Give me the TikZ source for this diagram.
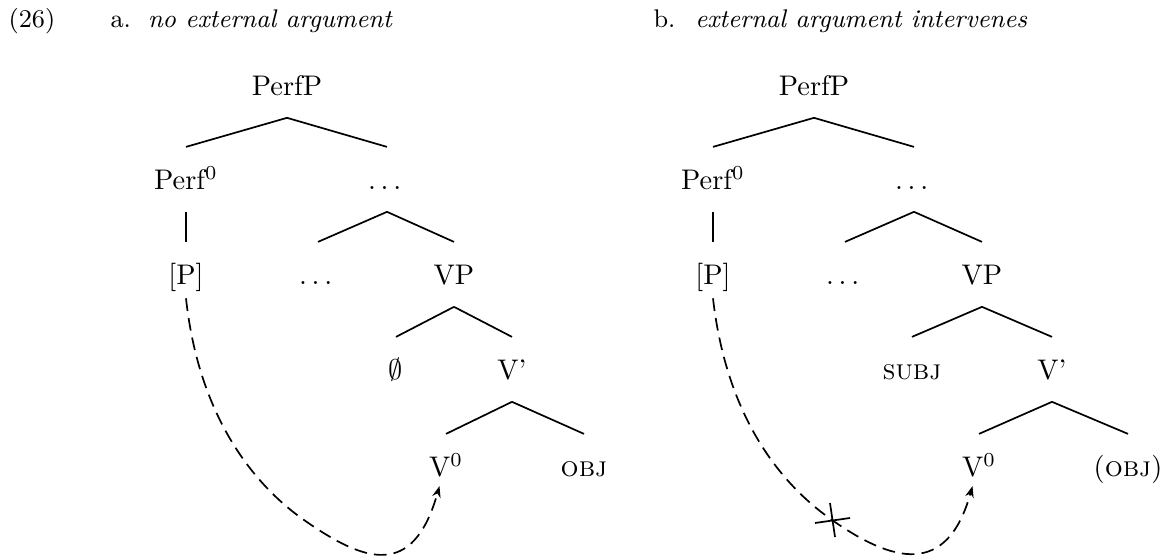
\documentclass[tikz,border=0pt]{standalone}
\usepackage{amssymb,amsmath}
\usepackage{tikz}
\usetikzlibrary{arrows.meta}

\begin{document}
\begin{tikzpicture}[x=0.3526pt, y=-0.3526pt,
    lbl/.style={inner sep=0pt, text height=15pt, text depth=7.5pt, anchor=base},
    head/.style={anchor=base west, inner sep=0pt, font=\fontsize{9}{11}\selectfont},
    edge/.style={line width=0.6pt},
    move/.style={line width=0.6pt, dash pattern=on 4.5pt off 2.5pt, -{Stealth[length=4pt,width=3pt]}}]
    \useasboundingbox (0,0) rectangle (1169,556);

    \node[head] (exnum) at (8,28) {(26)};
    \node[head] (tita) at (110,28) {a.\hspace{6pt}\textit{no external argument}};
    \node[head] (titb) at (653,28) {b.\hspace{7pt}\textit{external argument intervenes}};

    % tree a
    \node[lbl] (PerfPa) at (287,96) {PerfP};
    \node[lbl] (Perf0a) at (186,190) {Perf$^0$};
    \node[lbl] (dotsa1) at (387,190) {$\dots$};
    \node[lbl] (Pa) at (186,285) {[P]};
    \node[lbl] (dotsa2) at (318,285) {$\dots$};
    \node[lbl] (VPa) at (454,285) {VP};
    \node[lbl] (nulla) at (396,380) {$\emptyset$};
    \node[lbl] (Vbara) at (512,380) {V'};
    \node[lbl] (V0a) at (446,477) {V$^0$};
    \node[lbl] (OBJa) at (584,477) {\textsc{obj}};

    \draw[edge] (PerfPa.south) -- (Perf0a.north);
    \draw[edge] (PerfPa.south) -- (dotsa1.north);
    \draw[edge] (Perf0a.south) -- (Pa.north);
    \draw[edge] (dotsa1.south) -- (dotsa2.north);
    \draw[edge] (dotsa1.south) -- (VPa.north);
    \draw[edge] (VPa.south) -- (nulla.north);
    \draw[edge] (VPa.south) -- (Vbara.north);
    \draw[edge] (Vbara.south) -- (V0a.north);
    \draw[edge] (Vbara.south) -- (OBJa.north);

    \draw[move] ([yshift=3pt]Pa.south) .. controls (200,428) and (264,492) .. (304,520)
        .. controls (364,562) and (413,580) .. ([xshift=-2.3pt,yshift=4.5pt]V0a.south);

    % tree b
    \node[lbl] (PerfPb) at (814,96) {PerfP};
    \node[lbl] (Perf0b) at (713,190) {Perf$^0$};
    \node[lbl] (dotsb1) at (914,190) {$\dots$};
    \node[lbl] (Pb) at (713,285) {[P]};
    \node[lbl] (dotsb2) at (845,285) {$\dots$};
    \node[lbl] (VPb) at (982,285) {VP};
    \node[lbl] (SUBJb) at (912,380) {\textsc{subj}};
    \node[lbl] (Vbarb) at (1052,380) {V'};
    \node[lbl] (V0b) at (979,477) {V$^0$};
    \node[lbl] (OBJb) at (1128,477) {(\textsc{obj})};

    \draw[edge] (PerfPb.south) -- (Perf0b.north);
    \draw[edge] (PerfPb.south) -- (dotsb1.north);
    \draw[edge] (Perf0b.south) -- (Pb.north);
    \draw[edge] (dotsb1.south) -- (dotsb2.north);
    \draw[edge] (dotsb1.south) -- (VPb.north);
    \draw[edge] (VPb.south) -- (SUBJb.north);
    \draw[edge] (VPb.south) -- (Vbarb.north);
    \draw[edge] (Vbarb.south) -- (V0b.north);
    \draw[edge] (Vbarb.south) -- (OBJb.north);

    \coordinate (blockb) at (832,520);
    \draw[move] ([yshift=3pt]Pb.south) .. controls (728,430) and (792,492) .. (blockb)
        .. controls (892,562) and (947,578) .. ([xshift=-2.3pt,yshift=4.5pt]V0b.south);
    \draw[edge] ([shift={(-2,-17)}]blockb) -- ([shift={(3,17)}]blockb);
    \draw[edge] ([shift={(-17,3)}]blockb) -- ([shift={(18,-2)}]blockb);
\end{tikzpicture}
\end{document}
